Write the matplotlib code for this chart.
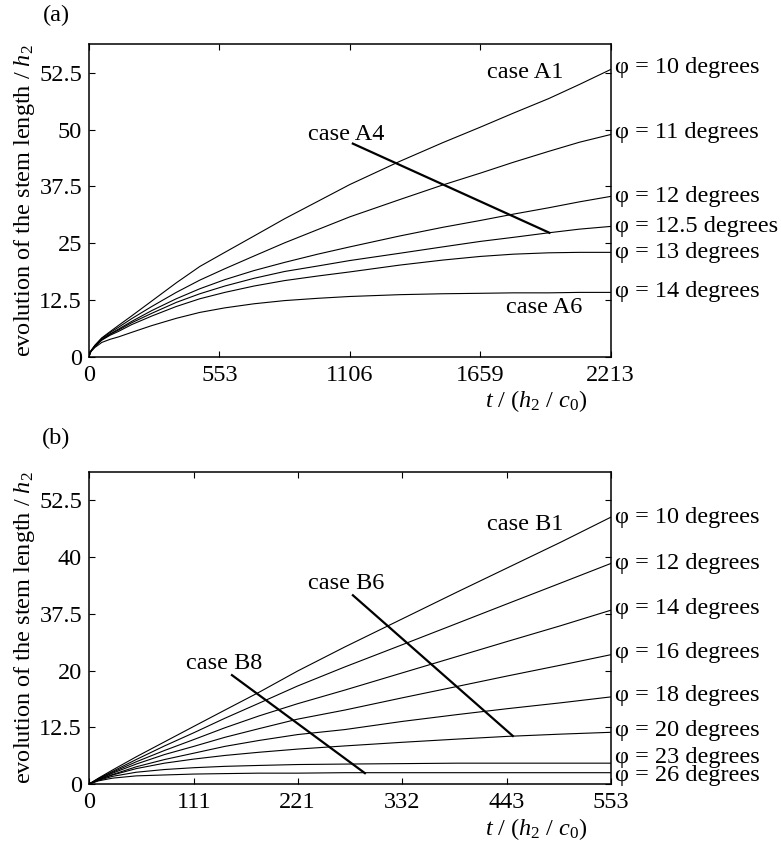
import numpy as np
import matplotlib
matplotlib.use("Agg")
import matplotlib.pyplot as plt

plt.rcParams['font.family'] = ['Liberation Serif', 'DejaVu Serif']
plt.rcParams['mathtext.fontset'] = 'custom'
plt.rcParams['mathtext.rm'] = 'Liberation Serif'
plt.rcParams['mathtext.it'] = 'Liberation Serif:italic'
FS = 17.5

# ---- panel (a) data: stem length vs time ----
t_a = [0, 4, 10, 25, 54, 90, 124, 180, 266, 370, 470, 576, 700, 830, 970, 1106,
       1318, 1500, 1659, 1800, 1950, 2080, 2213]
phi10_a = [0, 0.9, 1.5, 2.6, 4.2, 5.6, 6.9, 9.0, 12.3, 16.3, 19.9, 23.0, 26.6, 30.4, 34.2, 37.9,
           43.0, 47.1, 50.5, 53.6, 56.8, 59.9, 63.2]
phi11_a = [0, 0.9, 1.5, 2.5, 4.1, 5.4, 6.5, 8.4, 11.1, 14.2, 16.9, 19.4, 22.2, 25.1, 28.0, 30.8,
           34.6, 37.8, 40.4, 42.8, 45.2, 47.2, 48.9]
phi12_a = [0, 0.9, 1.4, 2.4, 3.9, 5.1, 6.1, 7.8, 10.2, 12.8, 15.0, 17.0, 19.0, 20.8, 22.6, 24.2,
           26.6, 28.5, 30.0, 31.4, 32.8, 34.1, 35.3]
phi125_a = [0, 0.9, 1.4, 2.4, 3.8, 5.0, 5.9, 7.5, 9.6, 12.0, 13.9, 15.6, 17.3, 18.8, 20.0, 21.2,
            22.8, 24.2, 25.4, 26.3, 27.3, 28.1, 28.7]
phi13_a = [0, 0.9, 1.4, 2.3, 3.7, 4.8, 5.6, 7.1, 9.0, 11.1, 12.8, 14.2, 15.6, 16.8, 17.8, 18.7,
           20.2, 21.3, 22.1, 22.6, 22.9, 23.0, 23.0]
phi14_a = [0, 0.8, 1.3, 2.1, 3.2, 3.9, 4.4, 5.4, 6.9, 8.5, 9.8, 10.8, 11.7, 12.4, 12.9, 13.3,
           13.7, 13.9, 14.0, 14.1, 14.1, 14.2, 14.2]
labels_a = ['10', '11', '12', '12.5', '13', '14']
label_y_a = [63.6, 49.3, 35.3, 28.6, 23.0, 14.3]
xticks_a = [0, 553, 1106, 1659, 2213]

# ---- panel (b) data ----
t_b = [0, 10, 25, 50, 80, 111, 144, 180, 221, 271, 332, 390, 443, 500, 553]
phi10_b = [0, 1.3, 3.1, 6.0, 9.3, 12.7, 16.3, 20.2, 24.9, 30.2, 36.4, 42.3, 47.6, 53.3, 58.8]
phi12_b = [0, 1.2, 2.8, 5.4, 8.4, 11.3, 14.5, 17.8, 21.6, 25.8, 30.7, 35.4, 39.7, 44.3, 48.6]
phi14_b = [0, 1.1, 2.6, 4.9, 7.4, 9.8, 12.4, 15.0, 17.7, 20.7, 24.5, 28.1, 31.4, 34.9, 38.3]
phi16_b = [0, 1.0, 2.4, 4.4, 6.5, 8.3, 10.3, 12.2, 14.3, 16.3, 19.0, 21.5, 23.8, 26.2, 28.5]
phi18_b = [0, 0.9, 2.1, 3.8, 5.4, 6.8, 8.3, 9.6, 10.9, 12.0, 13.8, 15.3, 16.6, 17.9, 19.2]
phi20_b = [0, 0.9, 2.0, 3.4, 4.6, 5.5, 6.3, 7.0, 7.7, 8.4, 9.2, 9.9, 10.5, 11.0, 11.4]
phi23_b = [0, 0.8, 1.7, 2.6, 3.2, 3.6, 3.9, 4.1, 4.3, 4.4, 4.5, 4.6, 4.6, 4.6, 4.6]
phi26_b = [0, 0.7, 1.3, 1.8, 2.0, 2.2, 2.3, 2.4, 2.4, 2.5, 2.5, 2.5, 2.5, 2.5, 2.5]
labels_b = ['10', '12', '14', '16', '18', '20', '23', '26']
label_y_b = [58.8, 48.6, 38.7, 29.1, 19.6, 11.7, 5.9, 1.8]
xticks_b = [0, 111, 221, 332, 443, 553]

yticks = [0, 12.5, 25, 37.5, 50, 62.5]
ytick_labels_a = ['0', '12.5', '25', '37.5', '50', '52.5']
ytick_labels_b = ['0', '12.5', '20', '37.5', '40', '52.5']


def style_axes(ax, xticks, xmax, ylabels):
    ax.set_xlim(0, xmax)
    ax.set_ylim(0, 68.75)
    ax.set_xticks(xticks)
    ax.set_xticklabels([str(v) for v in xticks])
    ax.set_yticks(yticks)
    ax.set_yticklabels(ylabels)
    ax.tick_params(direction='in', length=4, width=0.8, labelsize=FS,
                   top=True, right=True)
    ax.tick_params(axis='x', pad=6)
    ax.tick_params(axis='y', pad=5)
    for s in ax.spines.values():
        s.set_linewidth(1.1)
    ax.set_ylabel('evolution of the stem length / $h_2$', fontsize=FS)
    ax.set_xlabel('$t$ / ($h_2$ / $c_0$)', fontsize=FS)


fig = plt.figure(figsize=(7.81, 8.5), dpi=100)

# panel (a)
ax1 = fig.add_axes([0.114, 0.580, 0.668, 0.368])
for ys in [phi10_a, phi11_a, phi12_a, phi125_a, phi13_a, phi14_a]:
    ax1.plot(t_a, ys, color='black', lw=0.8)
style_axes(ax1, xticks_a, 2213, ytick_labels_a)
ax1.xaxis.set_label_coords(0.858, -0.100)
ax1.yaxis.set_label_coords(-0.100, 0.5)
for lab, yv in zip(labels_a, label_y_a):
    ax1.text(1.008, yv, 'φ = ' + lab + ' degrees', transform=ax1.get_yaxis_transform(),
             fontsize=FS, va='center', ha='left')
ax1.text(1848, 62.5, 'case A1', fontsize=FS, ha='center', va='center')
ax1.text(1930, 10.8, 'case A6', fontsize=FS, ha='center', va='center')
ax1.text(1089, 49.0, 'case A4', fontsize=FS, ha='center', va='center')
ax1.plot([1119, 1953], [46.9, 27.3], color='black', lw=1.6)
fig.text(56 / 781, 1 - 15 / 850, '(a)', fontsize=FS, ha='center', va='center')

# panel (b)
ax2 = fig.add_axes([0.114, 0.0776, 0.668, 0.367])
for ys in [phi10_b, phi12_b, phi14_b, phi16_b, phi18_b, phi20_b, phi23_b, phi26_b]:
    ax2.plot(t_b, ys, color='black', lw=0.8)
style_axes(ax2, xticks_b, 553, ytick_labels_b)
ax2.xaxis.set_label_coords(0.858, -0.104)
ax2.yaxis.set_label_coords(-0.100, 0.5)
for lab, yv in zip(labels_b, label_y_b):
    ax2.text(1.008, yv, 'φ = ' + lab + ' degrees', transform=ax2.get_yaxis_transform(),
             fontsize=FS, va='center', ha='left')
ax2.text(462, 57.2, 'case B1', fontsize=FS, ha='center', va='center')
ax2.text(273, 44.2, 'case B6', fontsize=FS, ha='center', va='center')
ax2.text(143.5, 26.6, 'case B8', fontsize=FS, ha='center', va='center')
ax2.plot([279.7, 449.2], [41.6, 10.6], color='black', lw=1.6)
ax2.plot([151.5, 292.4], [24.0, 2.4], color='black', lw=1.6)
fig.text(56 / 781, 1 - 438 / 850, '(b)', fontsize=FS, ha='center', va='center')

fig.savefig('out.png', dpi=100)
